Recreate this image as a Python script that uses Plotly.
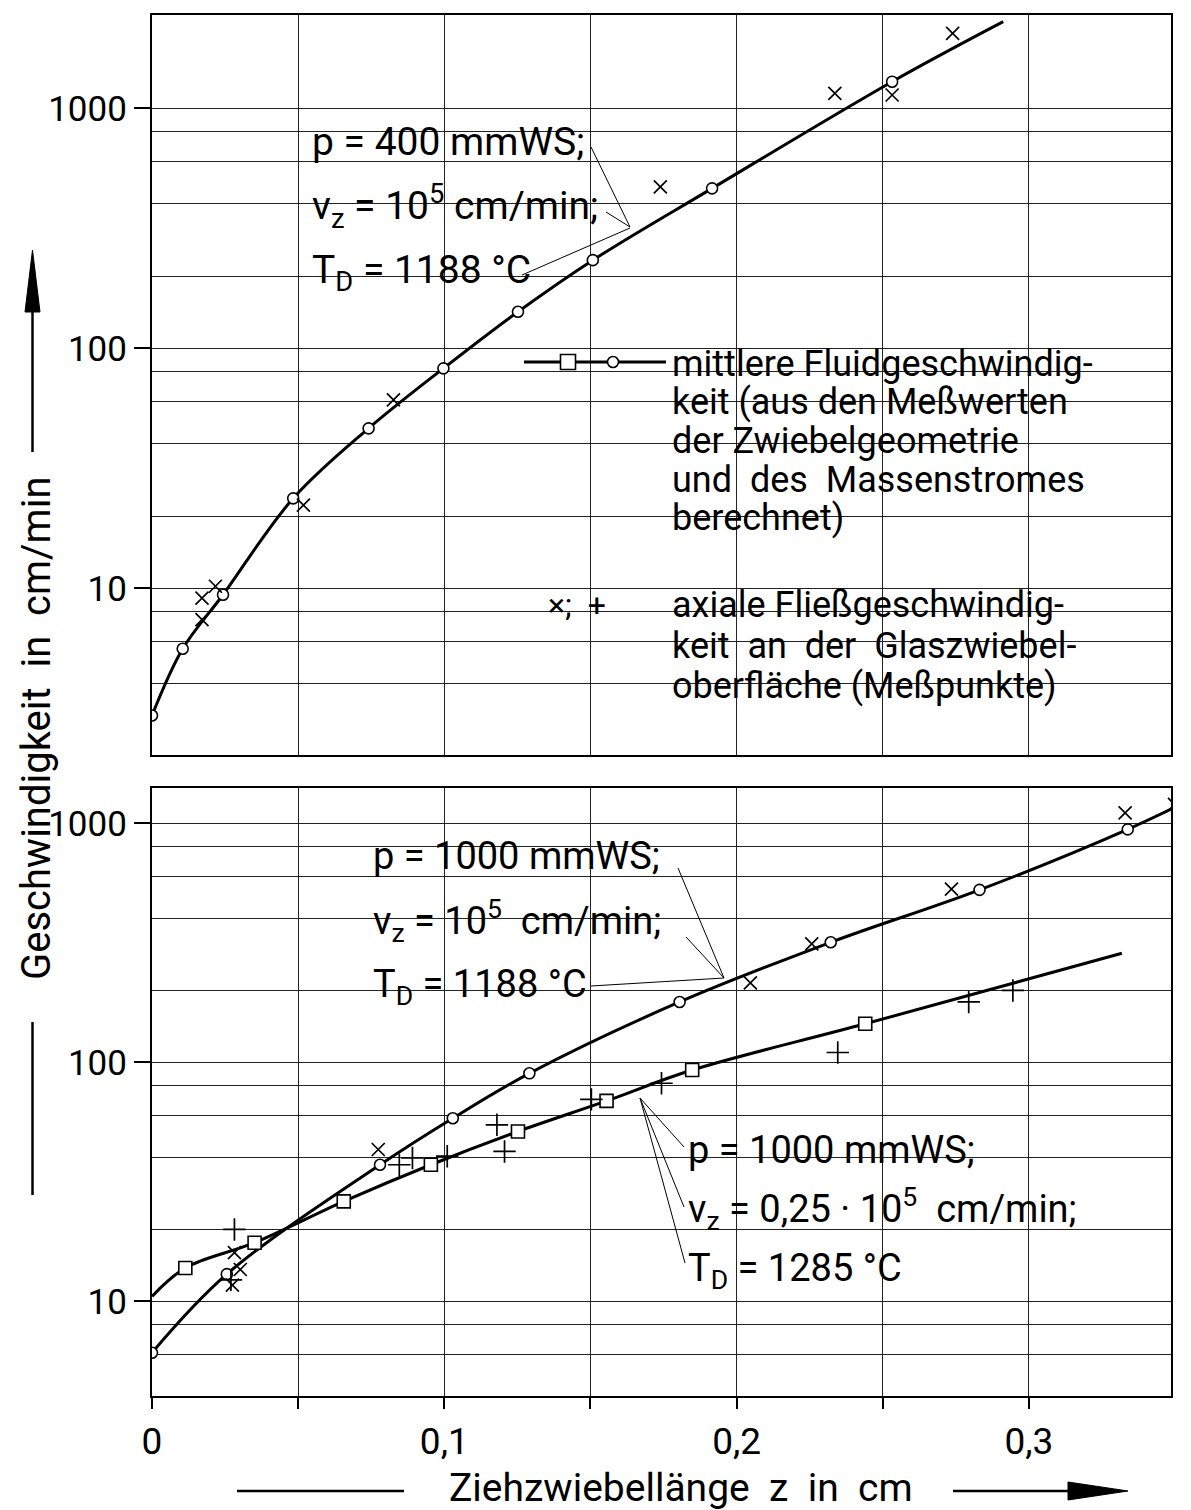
import math
import plotly.graph_objects as go

# ---------------- data ----------------
# Top panel: p = 400 mmWS, v_z = 1e5 cm/min, T_D = 1188 °C
top_circle_z = [0, 0.0105, 0.0243, 0.0483, 0.0741, 0.0997, 0.1252, 0.1508, 0.1916, 0.2532]
top_circle_v = [2.95, 5.6, 9.4, 23.7, 46.4, 82.5, 142, 233, 464, 1291]
top_curve_end_z = [0.2912]
top_curve_end_v = [2296]
top_cross_z = [0.0171, 0.0171, 0.0217, 0.0518, 0.0826, 0.1739, 0.2336, 0.2532, 0.2739]
top_cross_v = [7.4, 9.1, 10.2, 22.2, 61, 471, 1155, 1136, 2053]

# Bottom panel, upper curve: p = 1000 mmWS, v_z = 1e5 cm/min, T_D = 1188 °C
bu_circle_z = [0, 0.0256, 0.078, 0.1029, 0.1291, 0.1805, 0.2322, 0.2831, 0.3338]
bu_circle_v = [6.1, 13.0, 37.3, 58.4, 90, 179, 318, 527, 944]
bu_curve_end_z = [0.356]
bu_curve_end_v = [1270]
bu_cross_z = [0.0275, 0.0302, 0.0282, 0.0774, 0.2047, 0.2257, 0.2735, 0.3329, 0.3498]
bu_cross_v = [11.7, 13.6, 16.0, 43.2, 215, 313, 531, 1107, 1200]

# Bottom panel, lower curve: p = 1000 mmWS, v_z = 0.25e5 cm/min, T_D = 1285 °C
bl_curve_start_z = [0]
bl_curve_start_v = [10.5]
bl_square_z = [0.0114, 0.0351, 0.0656, 0.0954, 0.1252, 0.1555, 0.1848, 0.244]
bl_square_v = [13.8, 17.6, 26.2, 37.3, 51.4, 69, 92.9, 145]
bl_curve_end_z = [0.3318]
bl_curve_end_v = [286]
bl_plus_z = [0.027, 0.0282, 0.0846, 0.0891, 0.101, 0.118, 0.1206, 0.1503, 0.1743, 0.2346, 0.2794, 0.2945]
bl_plus_v = [12.3, 20.0, 37.3, 39.8, 40.5, 54.8, 42.4, 70, 81.8, 110, 179, 200]

x_major = [0, 0.1, 0.2, 0.3]
x_major_text = ["0", "0,1", "0,2", "0,3"]
x_minor = [0.05, 0.15, 0.25]
y_major = [10, 100, 1000]
y_major_text = ["10", "100", "1000"]
y_minor = [2, 4, 6, 8, 20, 40, 60, 80, 200, 400, 600, 800]

# ---------------- layout helpers ----------------
W, H = 1191, 1510
L, R, T, B = 152, 1171, 15, 1396
FONT = "Roboto"


def fx(p):
    return (p - L) / (R - L)


def fy(p):
    return (B - p) / (B - T)


fig = go.Figure()

line_style = dict(color="black", width=3, shape="spline", smoothing=1.0)
circ = dict(symbol="circle", size=11, color="white", line=dict(color="black", width=1.6))
sq = dict(symbol="square", size=13, color="white", line=dict(color="black", width=1.6))
xm = dict(symbol="x-thin", size=13, color="black", line=dict(color="black", width=1.7))
pm = dict(symbol="cross-thin", size=16, color="black", line=dict(color="black", width=1.7))

# top panel
fig.add_trace(go.Scatter(x=top_circle_z + top_curve_end_z, y=top_circle_v + top_curve_end_v,
                         xaxis="x2", yaxis="y", mode="lines", line=line_style, hoverinfo="skip"))
fig.add_trace(go.Scatter(x=top_circle_z, y=top_circle_v, xaxis="x2", yaxis="y",
                         mode="markers", marker=circ))
fig.add_trace(go.Scatter(x=top_cross_z, y=top_cross_v, xaxis="x2", yaxis="y",
                         mode="markers", marker=xm))

# bottom panel
fig.add_trace(go.Scatter(x=bu_circle_z + bu_curve_end_z, y=bu_circle_v + bu_curve_end_v,
                         xaxis="x", yaxis="y2", mode="lines", line=line_style, hoverinfo="skip"))
fig.add_trace(go.Scatter(x=bl_curve_start_z + bl_square_z + bl_curve_end_z,
                         y=bl_curve_start_v + bl_square_v + bl_curve_end_v,
                         xaxis="x", yaxis="y2", mode="lines", line=line_style, hoverinfo="skip"))
fig.add_trace(go.Scatter(x=bu_circle_z, y=bu_circle_v, xaxis="x", yaxis="y2",
                         mode="markers", marker=circ))
fig.add_trace(go.Scatter(x=bl_square_z, y=bl_square_v, xaxis="x", yaxis="y2",
                         mode="markers", marker=sq))
fig.add_trace(go.Scatter(x=bu_cross_z, y=bu_cross_v, xaxis="x", yaxis="y2",
                         mode="markers", marker=xm))
fig.add_trace(go.Scatter(x=bl_plus_z, y=bl_plus_v, xaxis="x", yaxis="y2",
                         mode="markers", marker=pm))

grid = dict(showgrid=True, gridcolor="#222", gridwidth=1)
axline = dict(showline=True, linecolor="black", linewidth=2.2, mirror=True)
xrange = [0, 0.3486]

ylog_common = dict(type="log", tickmode="array", tickvals=y_major, ticktext=y_major_text,
                   ticks="outside", ticklen=16, tickwidth=1.5, tickcolor="black",
                   tickfont=dict(family=FONT, size=35, color="black"),
                   minor=dict(tickmode="array", tickvals=y_minor, showgrid=True,
                              gridcolor="#222", gridwidth=1, ticks=""),
                   zeroline=False, **grid, **axline)

fig.update_layout(
    width=W, height=H,
    margin=dict(l=L, r=W - R, t=T, b=H - B),
    paper_bgcolor="white", plot_bgcolor="white",
    showlegend=False,
    font=dict(family=FONT, color="black"),
    xaxis=dict(domain=[0, 1], anchor="y2", range=xrange, tickmode="array",
               tickvals=x_major, ticktext=x_major_text, ticks="outside", ticklen=11,
               tickwidth=1.5, tickcolor="black", zeroline=False,
               minor=dict(tickmode="array", tickvals=x_minor, showgrid=True,
                          gridcolor="#222", gridwidth=1, ticks="outside", ticklen=11,
                          tickwidth=1.5, tickcolor="black"),
               tickfont=dict(family=FONT, size=37, color="black"), **grid, **axline),
    xaxis2=dict(domain=[0, 1], anchor="y", range=xrange, matches="x", tickmode="array",
                tickvals=x_major, showticklabels=False, ticks="", zeroline=False,
                minor=dict(tickmode="array", tickvals=x_minor, showgrid=True,
                           gridcolor="#222", gridwidth=1, ticks=""),
                **grid, **axline),
    yaxis=dict(domain=[fy(755), 1], anchor="x2",
               range=[math.log10(2.02), math.log10(2448)], **ylog_common),
    yaxis2=dict(domain=[0, fy(788)], anchor="x",
                range=[math.log10(4.02), math.log10(1406)], **ylog_common),
)

shapes = []


def white_rect(x0, y0, x1, y1):
    shapes.append(dict(type="rect", xref="paper", yref="paper", x0=fx(x0), x1=fx(x1),
                       y0=fy(y1), y1=fy(y0), fillcolor="white", line=dict(width=0),
                       layer="between"))


def seg(x0, y0, x1, y1, w=1.0):
    shapes.append(dict(type="line", xref="paper", yref="paper", x0=fx(x0), y0=fy(y0),
                       x1=fx(x1), y1=fy(y1), line=dict(color="black", width=w), layer="above"))


# gaps in the grid behind the labels
white_rect(291, 97, 630, 222)
white_rect(291, 222, 560, 293)
white_rect(515, 330, 1152, 715)
white_rect(350, 805, 701, 960)
white_rect(350, 960, 651, 1020)
white_rect(630, 1093, 1009, 1180)
white_rect(630, 1180, 1093, 1250)
white_rect(630, 1250, 975, 1312)

# leader lines
seg(591, 147, 630, 227)
seg(606, 212, 630, 227)
seg(522, 275, 630, 228)
seg(678, 868, 724, 978)
seg(686, 937, 724, 978)
seg(591, 986, 724, 978)
seg(640, 1098, 684, 1147)
seg(640, 1098, 684, 1207)
seg(640, 1098, 685, 1263)

# legend symbol  -□-o-
seg(524, 362, 666, 362, 3)
shapes.append(dict(type="rect", xref="paper", yref="paper", x0=fx(560.5), x1=fx(575.5),
                   y0=fy(369.5), y1=fy(354.5), fillcolor="white",
                   line=dict(color="black", width=1.6), layer="above"))
shapes.append(dict(type="circle", xref="paper", yref="paper", x0=fx(607.5), x1=fx(618.5),
                   y0=fy(367.5), y1=fy(356.5), fillcolor="white",
                   line=dict(color="black", width=1.6), layer="above"))

# axis-title arrows
seg(32.5, 1195, 32.5, 1022, 2.5)
seg(32.5, 452, 32.5, 305, 2.5)
shapes.append(dict(type="path", xref="paper", yref="paper",
                   path=f"M {fx(25)},{fy(312)} L {fx(40)},{fy(312)} L {fx(32.5)},{fy(250)} Z",
                   fillcolor="black", line=dict(color="black", width=1), layer="above"))
seg(237, 1491, 404, 1491, 2.5)
seg(953, 1491, 1075, 1491, 2.5)
shapes.append(dict(type="path", xref="paper", yref="paper",
                   path=f"M {fx(1068)},{fy(1482)} L {fx(1128)},{fy(1491)} L {fx(1068)},{fy(1500)} Z",
                   fillcolor="black", line=dict(color="black", width=1), layer="above"))

annotations = []


def txt(x, y, s, size=38, xanchor="left", angle=0):
    annotations.append(dict(xref="paper", yref="paper", x=fx(x), y=fy(y), text=s,
                            showarrow=False, xanchor=xanchor, yanchor="middle",
                            textangle=angle, font=dict(family=FONT, size=size, color="black")))


NB = "\u00a0"
# top panel labels
txt(310, 142, "p = 400 mmWS;", size=39)
txt(310, 206, "v<sub>z</sub> = 10<sup>5</sup> cm/min;", size=39)
txt(310, 272, "T<sub>D</sub> = 1188 °C", size=39)

legend1 = ["mittlere Fluidgeschwindig-", "keit (aus den Meßwerten", "der Zwiebelgeometrie",
           f"und{NB} des{NB} Massenstromes", "berechnet)"]
for i, s in enumerate(legend1):
    txt(670, 364 + 38.5 * i, s, size=36)
txt(546, 605, f"×;{NB} +", size=32)
legend2 = ["axiale Fließgeschwindig-", f"keit{NB} an{NB} der{NB} Glaszwiebel-", "oberfläche (Meßpunkte)"]
for i, s in enumerate(legend2):
    txt(670, 605 + 40.5 * i, s, size=36)

# bottom panel labels
txt(371, 856, "p = 1000 mmWS;")
txt(371, 920, f"v<sub>z</sub> = 10<sup>5</sup>{NB} cm/min;")
txt(371, 986, "T<sub>D</sub> = 1188 °C")
txt(686, 1150, "p = 1000 mmWS;")
txt(686, 1208, f"v<sub>z</sub> = 0,25 · 10<sup>5</sup>{NB} cm/min;")
txt(686, 1270, "T<sub>D</sub> = 1285 °C")

# axis titles
txt(36, 728, f"Geschwindigkeit{NB} in{NB} cm/min", size=40, xanchor="center", angle=-90)
txt(681, 1488, f"Ziehzwiebellänge{NB} z{NB} in{NB} cm", size=39, xanchor="center")

fig.update_layout(shapes=shapes, annotations=annotations)

fig.write_html("out.html", config={"displayModeBar": False},
               post_script="document.body.style.margin='0px';")
